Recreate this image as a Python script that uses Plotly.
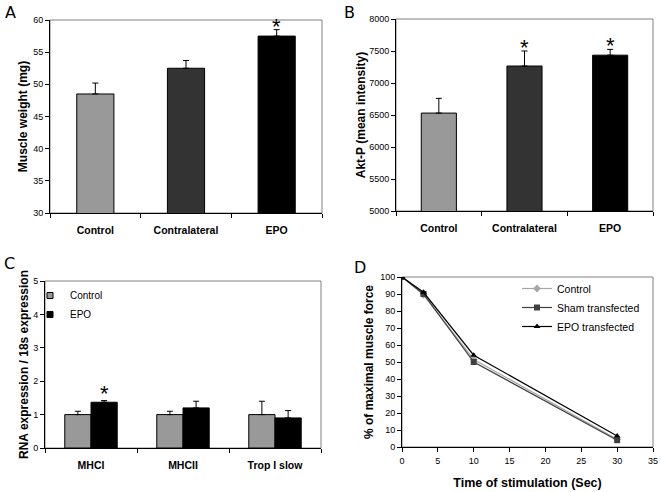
import plotly.graph_objects as go

# ---------------- data ----------------
a_categories = ["Control", "Contralateral", "EPO"]
a_values = [48.5, 52.5, 57.5]
a_err = [1.7, 1.2, 1.0]

b_categories = ["Control", "Contralateral", "EPO"]
b_values = [6530, 7265, 7435]
b_err = [230, 235, 90]

c_categories = ["MHCI", "MHCII", "Trop I slow"]
c_control = [1.0, 1.0, 1.0]
c_control_err = [0.1, 0.1, 0.4]
c_epo = [1.37, 1.2, 0.9]
c_epo_err = [0.05, 0.2, 0.22]

d_time = [0, 3, 10, 30]
d_control = [100, 89.5, 51.5, 4.5]
d_sham = [100, 90, 50, 4]
d_epo = [100, 91, 54, 6.5]

W, H = 661, 492
bar_colors = ["#999999", "#333333", "#000000"]
FAM = "Liberation Sans, Arial, sans-serif"
TICKFONT = dict(family=FAM, size=9, color="#000")
CATFONT = dict(family=FAM, size=10.5, color="#000", weight="bold")
TITLEFONT = dict(family=FAM, size=12, color="#000", weight="bold")


def px_dom_x(x0, x1):
    return [x0 / W, x1 / W]


def px_dom_y(ytop, ybot):
    return [1 - ybot / H, 1 - ytop / H]


fig = go.Figure()

# ---- Panel A ----
fig.add_trace(go.Bar(x=a_categories, y=a_values, marker=dict(color=bar_colors, line=dict(color="#000", width=1)),
                     error_y=dict(type="data", symmetric=False, array=a_err, arrayminus=[0] * 3,
                                  color="#000", thickness=1, width=3),
                     width=0.41, xaxis="x", yaxis="y", showlegend=False))
# ---- Panel B ----
fig.add_trace(go.Bar(x=b_categories, y=b_values, marker=dict(color=bar_colors, line=dict(color="#000", width=1)),
                     error_y=dict(type="data", symmetric=False, array=b_err, arrayminus=[0] * 3,
                                  color="#000", thickness=1, width=3),
                     width=0.41, xaxis="x2", yaxis="y2", showlegend=False))
# ---- Panel C ----
fig.add_trace(go.Bar(x=c_categories, y=c_control, name="Control", showlegend=False,
                     marker=dict(color="#999999", line=dict(color="#000", width=1)),
                     error_y=dict(type="data", symmetric=False, array=c_control_err, arrayminus=[0] * 3,
                                  color="#000", thickness=1, width=3),
                     xaxis="x3", yaxis="y3", offsetgroup="c1"))
fig.add_trace(go.Bar(x=c_categories, y=c_epo, name="EPO", showlegend=False,
                     marker=dict(color="#000000", line=dict(color="#000", width=1)),
                     error_y=dict(type="data", symmetric=False, array=c_epo_err, arrayminus=[0] * 3,
                                  color="#000", thickness=1, width=3),
                     xaxis="x3", yaxis="y3", offsetgroup="c2"))
# legend keys for panel C (small squares like the original)
for nm, col in [("Control", "#999999"), ("EPO", "#000000")]:
    fig.add_trace(go.Scatter(x=[None], y=[None], name=nm, mode="markers",
                             marker=dict(symbol="square", size=6, color=col, line=dict(color="#000", width=1)),
                             xaxis="x3", yaxis="y3", legend="legend"))
# ---- Panel D ----
fig.add_trace(go.Scatter(x=d_time, y=d_control, name="Control", mode="lines+markers",
                         line=dict(color="#a6a6a6", width=1.2),
                         marker=dict(symbol="diamond", size=6, color="#a6a6a6"),
                         xaxis="x4", yaxis="y4", legend="legend2"))
fig.add_trace(go.Scatter(x=d_time, y=d_sham, name="Sham transfected", mode="lines+markers",
                         line=dict(color="#404040", width=1.2),
                         marker=dict(symbol="square", size=6, color="#404040"),
                         xaxis="x4", yaxis="y4", legend="legend2"))
fig.add_trace(go.Scatter(x=d_time, y=d_epo, name="EPO transfected", mode="lines+markers",
                         line=dict(color="#000000", width=1.2),
                         marker=dict(symbol="triangle-up", size=6, color="#000000"),
                         xaxis="x4", yaxis="y4", legend="legend2"))

cat_x = dict(type="category", tickson="boundaries", ticks="outside", ticklen=4, tickcolor="#000",
             showline=True, linecolor="#000", linewidth=1, tickfont=CATFONT, showgrid=False,
             zeroline=False, automargin=False, ticklabelstandoff=7)
num_y = dict(ticks="outside", ticklen=4, tickcolor="#000", showline=True, linecolor="#000", linewidth=1,
             tickfont=TICKFONT, showgrid=False, zeroline=False, title_font=TITLEFONT, automargin=False)

fig.update_layout(
    template="none",
    font=dict(family=FAM, color="#000"),
    width=W, height=H, margin=dict(l=0, r=0, t=0, b=0),
    paper_bgcolor="white", plot_bgcolor="white",
    barmode="group", bargap=0.43, bargroupgap=0,
    xaxis=dict(cat_x, domain=px_dom_x(50, 322), anchor="y", range=[-0.5, 2.5]),
    yaxis=dict(num_y, domain=px_dom_y(20, 213), anchor="x", range=[30, 60], dtick=5,
               title=dict(text="Muscle weight (mg)", standoff=2)),
    xaxis2=dict(cat_x, domain=px_dom_x(396, 653), anchor="y2", range=[-0.5, 2.5]),
    yaxis2=dict(num_y, domain=px_dom_y(19, 211), anchor="x2", range=[5000, 8000], dtick=500,
                title=dict(text="Akt-P (mean intensity)", standoff=0)),
    xaxis3=dict(cat_x, domain=px_dom_x(45, 321), anchor="y3", range=[-0.5, 2.5]),
    yaxis3=dict(num_y, domain=px_dom_y(281, 448), anchor="x3", range=[0, 5], dtick=1,
                title=dict(text="RNA expression / 18s expression", standoff=1)),
    xaxis4=dict(num_y, domain=px_dom_x(402, 653), anchor="y4", range=[0, 35], dtick=5, ticklabelstandoff=1,
                title=dict(text="Time of stimulation (Sec)", standoff=13, font=dict(TITLEFONT, size=12.5))),
    yaxis4=dict(num_y, domain=px_dom_y(277, 447), anchor="x4", range=[0, 100], dtick=10,
                title=dict(text="% of maximal muscle force", standoff=3)),
    legend=dict(x=30 / W, y=1 - 281 / H, xanchor="left", yanchor="top", bgcolor="rgba(0,0,0,0)",
                font=dict(family=FAM, size=10, color="#000"),
                itemwidth=30, traceorder="normal"),
    legend2=dict(x=517 / W, y=1 - 274 / H, xanchor="left", yanchor="top", bgcolor="rgba(0,0,0,0)",
                 font=dict(family=FAM, size=10.5, color="#000"),
                 itemwidth=30, traceorder="normal"),
)

# gray frames (Excel-style plot area borders)
for xr, yr in [("x", "y"), ("x2", "y2"), ("x3", "y3"), ("x4", "y4")]:
    fig.add_shape(type="rect", xref=f"{xr} domain", yref=f"{yr} domain", x0=0, x1=1, y0=0, y1=1,
                  line=dict(color="#808080", width=1), layer="below")

# significance asterisks
star = dict(family=FAM, size=22, color="#000")
fig.add_annotation(x="EPO", y=a_values[2] + a_err[2], xref="x", yref="y", text="*", showarrow=False,
                   yanchor="middle", yshift=3, font=star)
fig.add_annotation(x=b_categories[1], y=b_values[1] + b_err[1], xref="x2", yref="y2", text="*",
                   showarrow=False, yanchor="middle", yshift=3, font=star)
fig.add_annotation(x=b_categories[2], y=b_values[2] + b_err[2], xref="x2", yref="y2", text="*",
                   showarrow=False, yanchor="middle", yshift=4, font=star)
fig.add_annotation(x="MHCI", y=c_epo[0] + c_epo_err[0], xref="x3", yref="y3", text="*", showarrow=False,
                   yanchor="middle", yshift=7, xshift=13, font=star)

# panel letters
letter = dict(family="DejaVu Sans", size=16, color="#000")
for txt, x, y in [("A", 3, 12), ("B", 342, 13), ("C", 2, 263), ("D", 352, 267)]:
    fig.add_annotation(x=x / W, y=1 - y / H, xref="paper", yref="paper", text=txt, showarrow=False,
                       xanchor="left", yanchor="middle", font=letter)

fig.write_html("out.html", config={"displayModeBar": False},
               post_script="document.body.style.margin='0';document.body.style.overflow='hidden';")
